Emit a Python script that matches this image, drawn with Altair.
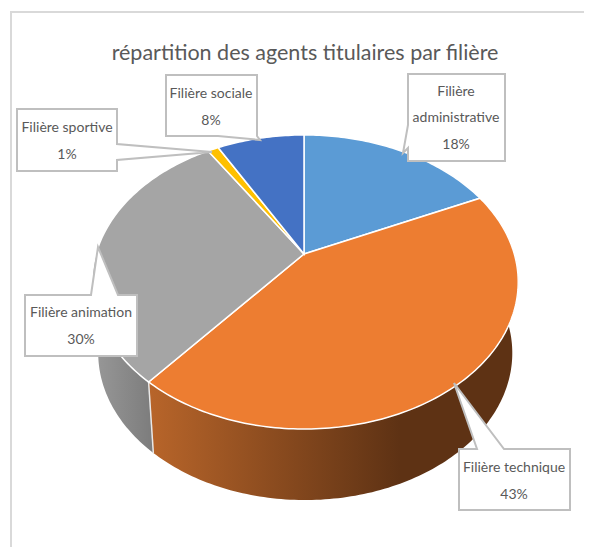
import math
import altair as alt
import pandas as pd

# ---- chart values ----
categories = ["Filière administrative", "Filière technique", "Filière animation", "Filière sportive", "Filière sociale"]
shares = [18, 43, 30, 1, 8]
colors = ["#5B9BD5", "#ED7D31", "#A5A5A5", "#FFC000", "#4472C4"]
title = "répartition des agents titulaires par filière"

# ---- perspective of the disc (layout) ----
APEX = (304, 254)
K, B = 0.1905, 141.7
A_RIGHT, A_LEFT = 210.3, 208
BOTTOM = dict(dx=1, dy=71, ar=203.5, al=203)


def top_pt(deg):
    t = math.radians(deg)
    u, v = math.sin(t), math.cos(t)
    w = 1 + K * v
    return (APEX[0] + (A_RIGHT if u > 0 else A_LEFT) * u / w, APEX[1] - B * v / w)


def low_pt(deg):
    t = math.radians(deg)
    u, v = math.sin(t), math.cos(t)
    w = 1 + K * v
    return (APEX[0] + BOTTOM["dx"] + (BOTTOM["ar"] if u > 0 else BOTTOM["al"]) * u / w,
            APEX[1] + BOTTOM["dy"] - B * v / w)


def arange(a, b):
    n = max(2, int(abs(b - a)) + 1)
    return [a + (b - a) * i / (n - 1) for i in range(n)]


X = alt.X("x:Q", scale=alt.Scale(domain=[8, 584], range=[0, 576], nice=False, zero=False), axis=None)
Y = alt.Y("y:Q", scale=alt.Scale(domain=[547, 8], range=[539, 0], nice=False, zero=False), axis=None)


def poly(points, closed=True, **style):
    df = pd.DataFrame({"x": [p[0] for p in points], "y": [p[1] for p in points], "i": range(len(points))})
    return (alt.Chart(df).mark_line(interpolate="linear-closed" if closed else "linear", **style)
            .encode(x=X, y=Y, order=alt.Order("i:Q")))


cum = [0]
for s in shares:
    cum.append(cum[-1] + s)
ang = [c * 3.6 for c in cum]

layers = []

# frame
layers.append(poly([(584, 12), (11, 12), (11, 547)], closed=False, stroke="#D9D9D9", strokeWidth=2))

# walls
orange_grad = alt.LinearGradient(gradient="linear", x1=0, x2=1, y1=0, y2=0,
                                 stops=[alt.GradientStop(offset=0, color="#B8652A"),
                                        alt.GradientStop(offset=0.68, color="#5E3214"),
                                        alt.GradientStop(offset=1, color="#5E3214")])
grey_grad = alt.LinearGradient(gradient="linear", x1=0, x2=1, y1=0, y2=0,
                               stops=[alt.GradientStop(offset=0, color="#999999"),
                                      alt.GradientStop(offset=1, color="#7C7C7C")])
grey_end = 285
pts = [top_pt(d) for d in arange(ang[2], grey_end)] + [low_pt(d) for d in arange(grey_end, ang[2])]
layers.append(poly(pts, fill=grey_grad, strokeWidth=0))
pts = [top_pt(d) for d in arange(70, ang[2])] + [low_pt(d) for d in arange(ang[2], 70)]
layers.append(poly(pts, fill=orange_grad, strokeWidth=0))
layers.append(poly([top_pt(ang[2]), low_pt(ang[2])], closed=False, stroke="#E8E8E8", strokeWidth=1.5))

# top slices
for i, c in enumerate(colors):
    pts = [APEX] + [top_pt(d) for d in arange(ang[i], ang[i + 1])]
    layers.append(poly(pts, fill=c, stroke="#FFFFFF", strokeWidth=1.5))

# callouts
EDGE = dict(fill="#FFFFFF", stroke="#BFBFBF", strokeWidth=2)
layers.append(poly([(166, 75), (257, 75), (257, 136), (260, 140), (218, 136), (166, 136)], **EDGE))
layers.append(poly([(17, 109), (117, 109), (117, 144), (212, 152), (117, 160), (117, 171), (17, 171)], **EDGE))
layers.append(poly([(408, 74), (505, 74), (505, 161), (408, 161), (408, 148), (403, 153), (408, 125)], **EDGE))
layers.append(poly([(459, 449), (477, 449), (454, 383), (504, 449), (570, 449), (570, 510), (459, 510)], **EDGE))
layers.append(poly([(25, 295), (91, 295), (98, 247), (118, 295), (137, 295), (137, 356), (25, 356)], **EDGE))

FONT = "Lato"
labels = [
    ("Filière", 456, 92), ("administrative", 456, 118), (f"{shares[0]}%", 456, 145),
    ("Filière technique", 514, 468), (f"{shares[1]}%", 514, 495),
    ("Filière animation", 81, 313), (f"{shares[2]}%", 81, 340),
    ("Filière sportive", 67, 128), (f"{shares[3]}%", 67, 155),
    ("Filière sociale", 211, 94), (f"{shares[4]}%", 211, 121),
]
ldf = pd.DataFrame(labels, columns=["t", "x", "y"])
layers.append(alt.Chart(ldf).mark_text(font=FONT, fontSize=14, color="#595959", align="center", baseline="middle")
              .encode(x=X, y=Y, text="t:N"))
tdf = pd.DataFrame({"t": [title], "x": [305], "y": [54]})
layers.append(alt.Chart(tdf).mark_text(font=FONT, fontSize=21.5, color="#595959", align="center", baseline="middle")
              .encode(x=X, y=Y, text="t:N"))

chart = (alt.layer(*layers)
         .properties(width=576, height=539, padding=0, background="#FFFFFF",
                     autosize=alt.AutoSizeParams(type="none"))
         .configure_view(stroke=None))
chart.save("out.html", embed_options={"renderer": "svg", "actions": False})
